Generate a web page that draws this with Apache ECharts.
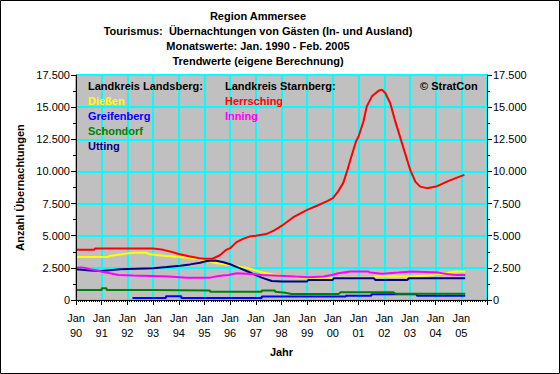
<!DOCTYPE html>
<html><head><meta charset="utf-8">
<script src="https://cdn.jsdelivr.net/npm/echarts@6/dist/echarts.min.js"></script>
<style>html,body{margin:0;padding:0;background:#fff}#c{width:560px;height:374px}</style>
</head><body><div id="c"></div>
<script>
const titleLines = ['Region Ammersee','Tourismus:  Übernachtungen von Gästen (In- und Ausland)','Monatswerte: Jan. 1990 - Feb. 2005','Trendwerte (eigene Berechnung)'];
const xTickLabels = ['Jan\n90','Jan\n91','Jan\n92','Jan\n93','Jan\n94','Jan\n95','Jan\n96','Jan\n97','Jan\n98','Jan\n99','Jan\n00','Jan\n01','Jan\n02','Jan\n03','Jan\n04','Jan\n05'];
const yAxisName = 'Anzahl Übernachtungen';
const xAxisName = 'Jahr';
const groupLandsberg = 'Landkreis Landsberg:';
const groupStarnberg = 'Landkreis Starnberg:';
const copyright = '© StratCon';
const seriesNames = ['Dießen','Greifenberg','Schondorf','Utting','Herrsching','Inning'];
const seriesColors = ['#FFFF00','#0000FF','#008000','#000080','#FF0000','#FF00FF'];

// Dießen
const diessenYears = [1990.0,1991.26,1991.3,1991.71,1991.97,1992.3,1992.75,1992.82,1993.14,1993.53,1994.05,1994.31,1994.83,1995.05,1995.29,1995.68,1996.07,1996.32,1996.71,1996.97,1997.23,1997.62,1998.01,1998.53,1999.05,1999.96,2000.28,2001.58,2001.65,2002.88,2003.73,2004.11,2004.8,2005.15];
const diessenValues = [3350,3350,3430,3530,3610,3680,3680,3580,3500,3430,3350,3270,3170,3050,2940,2800,2720,2600,2470,2310,2160,2000,1870,1770,1710,1710,1740,1740,1820,1820,1900,2000,2210,2210];
// Greifenberg
const greifenbergYears = [1992.2,1993.5,1993.5,1994.1,1994.1,1997.23,1997.23,2000.5,2000.5,2001.5,2001.5,2003.27,2003.27,2005.15];
const greifenbergValues = [160,160,290,290,160,160,270,270,340,340,440,440,340,340];
// Schondorf
const schondorfYears = [1990.0,1991.0,1991.0,1991.19,1991.19,1993.0,1993.0,1995.22,1995.22,1997.23,1997.23,1997.75,1997.75,1998.14,1998.4,2000.22,2000.3,2002.36,2002.43,2005.15];
const schondorfValues = [780,780,910,910,780,780,730,730,650,650,730,730,650,570,470,470,600,600,490,490];
// Utting
const uttingYears = [1990.0,1990.55,1991.0,1991.71,1992.36,1992.99,1993.53,1994.05,1994.44,1994.83,1995.09,1995.42,1995.74,1996.0,1996.32,1996.71,1996.97,1997.23,1997.62,1998.01,1998.99,1999.05,1999.99,2000.03,2001.6,2001.65,2002.9,2002.95,2005.15];
const uttingValues = [2390,2300,2260,2390,2440,2470,2570,2670,2770,2900,3040,3080,2940,2780,2520,2200,1950,1740,1480,1430,1430,1560,1560,1690,1690,1560,1560,1690,1690];
// Herrsching
const herrschingYears = [1990.0,1990.7,1990.75,1993.0,1993.4,1993.7,1994.0,1994.4,1994.8,1995.0,1995.3,1995.6,1995.85,1996.0,1996.25,1996.5,1996.75,1997.0,1997.4,1997.7,1998.0,1998.5,1999.0,1999.4,1999.8,2000.0,2000.2,2000.4,2000.55,2000.7,2000.9,2001.0,2001.19,2001.32,2001.52,2001.78,2001.91,2002.04,2002.23,2002.43,2002.69,2003.01,2003.21,2003.4,2003.66,2004.02,2004.44,2004.83,2005.12];
const herrschingValues = [3900,3900,4000,4000,3900,3750,3580,3400,3250,3200,3200,3480,3900,4030,4500,4750,4930,5000,5130,5400,5760,6490,7010,7350,7710,7920,8430,9090,10000,11030,12330,12720,13880,15060,15840,16280,16360,16100,15320,13890,12200,10120,9210,8820,8700,8820,9210,9520,9730];
// Inning
const inningYears = [1990.0,1990.29,1990.55,1990.81,1991.06,1991.32,1991.65,1992.23,1993.6,1994.31,1995.22,1995.55,1995.94,1996.26,1996.84,1997.23,1998.53,1999.05,1999.64,1999.96,2000.22,2000.67,2001.39,2001.45,2001.91,2002.56,2003.08,2004.11,2004.44,2004.76,2005.15];
const inningValues = [2520,2520,2390,2300,2180,2080,1950,1900,1820,1740,1740,1870,1950,2080,2030,1950,1820,1770,1820,1950,2080,2210,2210,2130,2050,2130,2210,2130,2030,1950,1950];

const allYears = [diessenYears,greifenbergYears,schondorfYears,uttingYears,herrschingYears,inningYears];
const allValues = [diessenValues,greifenbergValues,schondorfValues,uttingValues,herrschingValues,inningValues];

function fmt(v){ return String(v).replace(/\B(?=(\d{3})+(?!\d))/g,'.'); }
const FONT = '"Liberation Sans", Arial, sans-serif';

const series = seriesNames.map((n,i)=>({
  name:n, type:'line', showSymbol:false, symbol:'none', animation:false,
  xAxisIndex:0, yAxisIndex:0,
  lineStyle:{color:seriesColors[i], width:2}, itemStyle:{color:seriesColors[i]},
  z: i===4 ? 5 : 3,
  data: allYears[i].map((x,k)=>[x, allValues[i][k]])
}));

const graphics = [
  {type:'rect', shape:{x:0.5,y:0.5,width:559,height:373}, style:{fill:'none', stroke:'#000', lineWidth:1}, z:100}
];
titleLines.forEach((t,i)=>graphics.push({type:'text', x:258, y:16+15*i, style:{text:t, font:'bold 11px '+FONT, fill:'#000', textAlign:'center', textVerticalAlign:'middle'}, z:100}));
graphics.push({type:'text', x:88, y:86, style:{text:groupLandsberg, font:'bold 11px '+FONT, fill:'#000', textAlign:'left', textVerticalAlign:'middle'}, z:100});
graphics.push({type:'text', x:225, y:86, style:{text:groupStarnberg, font:'bold 11px '+FONT, fill:'#000', textAlign:'left', textVerticalAlign:'middle'}, z:100});
graphics.push({type:'text', x:420, y:86, style:{text:copyright, font:'bold 11px '+FONT, fill:'#000', textAlign:'left', textVerticalAlign:'middle'}, z:100});
[0,1,2,3].forEach((si,k)=>graphics.push({type:'text', x:88, y:101+15*k, style:{text:seriesNames[si], font:'bold 11px '+FONT, fill:seriesColors[si], textAlign:'left', textVerticalAlign:'middle'}, z:100}));
[4,5].forEach((si,k)=>graphics.push({type:'text', x:225, y:101+15*k, style:{text:seriesNames[si], font:'bold 11px '+FONT, fill:seriesColors[si], textAlign:'left', textVerticalAlign:'middle'}, z:100}));

const GRIDLINE = {show:true, lineStyle:{color:'#00FFFF', width:2, opacity:1}};
const yBase = {
  type:'value', min:0, max:17500, interval:2500, z:10,
  axisLine:{show:true, lineStyle:{color:'#000', width:1}},
  axisTick:{show:true, length:5, lineStyle:{color:'#000'}},
  minorTick:{show:true, splitNumber:2, length:3, lineStyle:{color:'#000'}},
  splitLine:{show:false},
  axisLabel:{formatter:fmt, fontSize:11, fontFamily:FONT, color:'#000', margin:6}
};
const hiddenAxisParts = {axisLine:{show:false}, axisTick:{show:false}, axisLabel:{show:false}, minorTick:{show:false}};

const chart = echarts.init(document.getElementById('c'), null, {renderer:'svg'});
chart.setOption({
  animation:false,
  backgroundColor:'#fff',
  grid:{left:76, right:73, top:75, bottom:74, show:true, backgroundColor:'#C0C0C0', borderColor:'#808080', borderWidth:1},
  xAxis:[{
    type:'value', min:1990, max:2006, interval:1, z:10, position:'bottom',
    axisLine:{show:true, onZero:false, lineStyle:{color:'#000', width:1}},
    axisTick:{show:true, length:5, lineStyle:{color:'#000'}},
    minorTick:{show:true, splitNumber:12, length:2, lineStyle:{color:'#000'}},
    splitLine:{show:false},
    axisLabel:{formatter:v=>xTickLabels[Math.round(v-1990)]||'', fontSize:11, fontFamily:FONT, color:'#000', lineHeight:15, margin:10},
    name:xAxisName, nameLocation:'middle', nameGap:46,
    nameTextStyle:{fontSize:11, fontWeight:'bold', fontFamily:FONT, color:'#000'}
  },
  Object.assign({type:'value', min:1990, max:2006, interval:1, z:0, position:'top', splitLine:GRIDLINE}, hiddenAxisParts)
  ],
  yAxis:[
    Object.assign({}, yBase, {position:'left',
      name:yAxisName, nameLocation:'middle', nameGap:49, nameRotate:90,
      nameTextStyle:{fontSize:11, fontWeight:'bold', fontFamily:FONT, color:'#000'}}),
    Object.assign({}, yBase, {position:'right'}),
    Object.assign({type:'value', min:0, max:17500, interval:2500, z:0, position:'left', offset:0, splitLine:GRIDLINE}, hiddenAxisParts)
  ],
  graphic:graphics,
  series:series
});
</script></body></html>
